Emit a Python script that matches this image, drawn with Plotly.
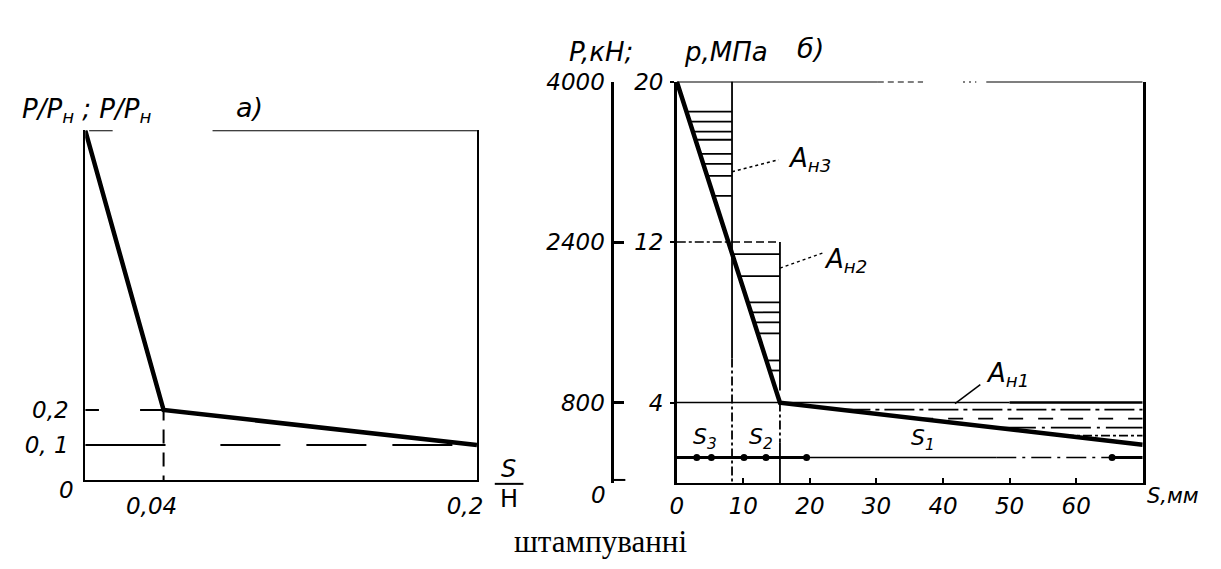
import numpy as np
import plotly.graph_objects as go

W, H = 1221, 569
OFF = 8                          # default page body margin (all sides)
FW, FH = W - 2 * OFF, H - 2 * OFF

# ---------------- chart а): relative force vs relative stroke ----------------
a_s_rel = [0.0, 0.04, 0.2]          # S/H
a_p_rel = [1.0, 0.2, 0.1]           # P/Pн
a_xtick_vals = [0.04, 0.2]
a_xtick_text = ["0,04", "0,2"]
a_ytick_vals = [0.1, 0.2]
a_ytick_text = ["0, 1", "0,2"]
a_origin_text = "0"

# ---------------- chart б): force / pressure vs stroke ----------------
b_s_mm = [0.0, 15.5, 70.0]          # S, мм
b_p_mpa = [20.0, 4.0, 1.9]          # p, МПа
b_s3_end = 8.3
b_s2_end = 15.5
b_x_ticks = [0, 10, 20, 30, 40, 50, 60]
b_p_ticks = [4, 12, 20]
b_P_ticks = [800, 2400, 4000]
b_P_text = ["800", "2400", "4000"]
b_P_origin_text = "0"
hatch_A3 = [18.5, 18.0, 17.5, 17.1, 16.4, 15.9, 15.3, 14.3]
hatch_A2 = [11.4, 10.3, 9.0, 8.5, 8.0, 7.45, 6.1, 5.6]
hatch_A1 = [3.65, 3.2, 2.75, 2.35]
s_dim_level = 1.27
s_dim_marks = [3.0, 5.2, 10.1, 13.4, 19.5, 65.4]


def px(x):
    return (x - OFF) / FW


def py(y):
    return 1 - (y - OFF) / FH


TF = dict(family="DejaVu Sans", size=23, color="black", style="italic")
BLK = "black"

fig = go.Figure()

fig.add_trace(go.Scatter(x=a_s_rel, y=a_p_rel, mode="lines", xaxis="x", yaxis="y",
                         line=dict(color=BLK, width=4.5), hoverinfo="skip"))
fig.add_trace(go.Scatter(x=b_s_mm, y=b_p_mpa, mode="lines", xaxis="x2", yaxis="y2",
                         line=dict(color=BLK, width=4.5), hoverinfo="skip"))
fig.add_trace(go.Scatter(x=[None], y=[None], xaxis="x2", yaxis="y3", showlegend=False))

curve_p_inc = b_p_mpa[::-1]
curve_s_inc = b_s_mm[::-1]


def curve_s(p):
    return float(np.interp(p, curve_p_inc, curve_s_inc))


shapes = []


def seg(x0, y0, x1, y1, xr, yr, w=1.5, dash="solid"):
    shapes.append(dict(type="line", xref=xr, yref=yr, x0=x0, y0=y0, x1=x1, y1=y1,
                       line=dict(color=BLK, width=w, dash=dash), layer="above"))


# ---- chart а) decorations ----
k04 = a_s_rel[1]
seg(0.065, 1.0, a_s_rel[2], 1.0, "x", "y", 2)
seg(0.002, 1.0, 0.014, 1.0, "x", "y", 2)
seg(0.0, a_p_rel[1], 0.007, a_p_rel[1], "x", "y", 2)
seg(0.028, a_p_rel[1], k04, a_p_rel[1], "x", "y", 2)
seg(0.0, a_p_rel[2], k04 + 0.001, a_p_rel[2], "x", "y", 2)
seg(0.069, a_p_rel[2], a_s_rel[2], a_p_rel[2], "x", "y", 2, "60px,26px")
seg(k04, a_p_rel[1] + 0.01, k04, 0.0, "x", "y", 2, "14px,9px")

# ---- chart б) decorations ----
top = b_p_mpa[0]
seg(0, top, 30.2, top, "x2", "y2", 2)
seg(30.2, top, 37, top, "x2", "y2", 2, "6px,4px")
seg(43, top, 45, top, "x2", "y2", 2, "2px,4px")
seg(46.5, top, 70, top, "x2", "y2", 2)
seg(0, 12, b_s3_end, 12, "x2", "y2", 1.5, "dashdot")
seg(b_s3_end, 12, b_s2_end, 12, "x2", "y2", 1.5, "8px,4px")
seg(0, 4, 50, 4, "x2", "y2", 1.5)
seg(50, 4, 70, 4, "x2", "y2", 2.5)
seg(b_s3_end, top, b_s3_end, 6.2, "x2", "y2", 1.8)
seg(b_s3_end, 6.2, b_s3_end, 0, "x2", "y2", 1.8, "dashdot")
seg(b_s2_end, 12, b_s2_end, 4.6, "x2", "y2", 1.8)
seg(b_s2_end, 4.0, b_s2_end, 2.0, "x2", "y2", 1.8, "dashdot")
seg(b_s2_end, 2.0, b_s2_end, 0, "x2", "y2", 1.8)
for p in hatch_A3:
    seg(curve_s(p), p, b_s3_end, p, "x2", "y2", 1.8)
for p in hatch_A2:
    seg(max(curve_s(p), b_s3_end), p, b_s2_end, p, "x2", "y2", 1.8)
dashes_A1 = ["30px,5px,4px,5px", "longdash", "40px,6px,3px,6px", "dashdot"]
for p, d in zip(hatch_A1, dashes_A1):
    seg(curve_s(p), p, 70, p, "x2", "y2", 1.8, d)
seg(0, s_dim_level, 19.5, s_dim_level, "x2", "y2", 3)
seg(19.5, s_dim_level, 48, s_dim_level, "x2", "y2", 1.5)
seg(48, s_dim_level, 65, s_dim_level, "x2", "y2", 1.5, "20px,6px,3px,6px")
seg(65, s_dim_level, 70, s_dim_level, "x2", "y2", 3)
fig.add_trace(go.Scatter(x=s_dim_marks, y=[s_dim_level] * len(s_dim_marks), mode="markers",
                         xaxis="x2", yaxis="y2", marker=dict(color=BLK, size=7, symbol="circle"),
                         hoverinfo="skip"))
seg(b_s3_end, 15.5, 15.3, 16.1, "x2", "y2", 1.5, "dot")
seg(b_s2_end, 10.7, 22.3, 11.5, "x2", "y2", 1.5, "dot")
seg(41.8, 3.95, 45.6, 4.9, "x2", "y2", 1.5)

shapes.append(dict(type="line", xref="paper", yref="paper", x0=px(612), y0=py(478),
                   x1=px(625), y1=py(478), line=dict(color=BLK, width=2)))
shapes.append(dict(type="line", xref="paper", yref="paper", x0=px(493), y0=py(482),
                   x1=px(522), y1=py(482), line=dict(color=BLK, width=2)))

ann = []


def note(text, x, y, size=22, xa="center", ya="middle", family="DejaVu Sans", style="italic"):
    ann.append(dict(text=text, x=px(x), y=py(y), xref="paper", yref="paper", showarrow=False,
                    xanchor=xa, yanchor=ya,
                    font=dict(family=family, size=size, color=BLK, style=style)))


note("P/P<sub>н</sub> ; P/P<sub>н</sub>", 80, 100, 26)
note("а)", 245, 97, 27)
note(a_origin_text, 60, 488, 23)
note("S", 507, 467, 24)
note("H", 507, 498, 24, style="normal")
note("P,кН;", 600, 40, 26)
note("p,МПа", 727, 40, 26)
note("б)", 812, 36, 27)
note(b_P_origin_text, 598, 493, 23)
note("S,мм", 1150, 494, 21, xa="left")
note("S<sub>3</sub>", 706, 436, 22)
note("S<sub>2</sub>", 762, 436, 22)
note("S<sub>1</sub>", 926, 437, 22)
note("A<sub>н3</sub>", 787, 150, 26, xa="left")
note("A<sub>н2</sub>", 824, 253, 26, xa="left")
note("A<sub>н1</sub>", 988, 370, 26, xa="left")
note("штампуванні", 600, H - OFF, 31, ya="bottom", family="Liberation Serif", style="normal")

axis_common = dict(showgrid=False, zeroline=False, showline=True, linecolor=BLK, tickcolor=BLK,
                   tickfont=TF)

fig.update_layout(
    width=FW, height=FH, margin=dict(l=0, r=0, t=0, b=0),
    paper_bgcolor="white", plot_bgcolor="white", showlegend=False,
    xaxis=dict(domain=[px(79), px(475)], range=[0, a_s_rel[2]], anchor="y",
               tickvals=a_xtick_vals, ticktext=a_xtick_text, ticks="", linewidth=2,
               ticklabelshift=-12, ticklabelstandoff=4, **axis_common),
    yaxis=dict(domain=[py(478), py(120)], range=[0, 1.0], anchor="x",
               tickvals=a_ytick_vals, ticktext=a_ytick_text, ticks="", linewidth=2,
               mirror=True, ticklabelstandoff=10, **axis_common),
    xaxis2=dict(domain=[px(677), px(1148)], range=[0, 70], anchor="y2",
                tickvals=b_x_ticks, ticks="inside", ticklen=5, tickwidth=1.5, linewidth=2,
                ticklabelstandoff=2, **axis_common),
    yaxis2=dict(domain=[py(481), py(70)], range=[0, 20], anchor="x2",
                tickvals=b_p_ticks, ticks="outside", ticklen=4, tickwidth=1.5, linewidth=2.5,
                mirror=True, ticklabelstandoff=2, **axis_common),
    yaxis3=dict(overlaying="y2", anchor="free", position=px(612), side="left",
                range=[0, 4000], tickvals=b_P_ticks, ticktext=b_P_text,
                ticks="inside", ticklen=10, tickwidth=3, linewidth=3,
                ticklabelstandoff=2, **axis_common),
    shapes=shapes,
    annotations=ann,
)

fig.write_html("out.html")
